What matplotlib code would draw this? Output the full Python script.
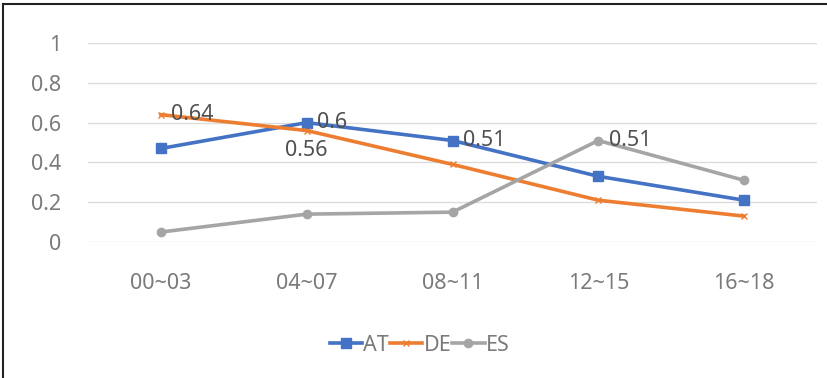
import matplotlib.pyplot as plt
from matplotlib.lines import Line2D

plt.rcParams['font.family'] = ['Noto Sans', 'DejaVu Sans']

periods = ['00~03', '04~07', '08~11', '12~15', '16~18']
at_vals = [0.47, 0.60, 0.51, 0.33, 0.21]
de_vals = [0.64, 0.56, 0.39, 0.21, 0.13]
es_vals = [0.05, 0.14, 0.15, 0.51, 0.31]

fig = plt.figure(figsize=(8.27, 3.78), dpi=100)
ax = fig.add_axes([88 / 827, 1 - 242 / 378, (817 - 88) / 827, (242 - 43) / 378])

x = range(len(periods))
ax.plot(x, at_vals, color='#4472c4', lw=2.6, marker='s', ms=7, label='AT')
ax.plot(x, de_vals, color='#ed7d31', lw=2.6, marker='x', ms=5, mew=1.0, label='DE')
ax.plot(x, es_vals, color='#a5a5a5', lw=2.6, marker='o', ms=6, label='ES')

# value labels on selected points
lab = dict(fontsize=15.5, color='#505050')
ax.text(0 + 0.07, de_vals[0], f'{de_vals[0]:.2f}', va='center', ha='left', **lab)
ax.text(1 + 0.07, at_vals[1], f'{at_vals[1]:g}', va='center', ha='left', **lab)
ax.text(1, de_vals[1] - 0.045, f'{de_vals[1]:.2f}', va='top', ha='center', **lab)
ax.text(2 + 0.07, at_vals[2], f'{at_vals[2]:.2f}', va='center', ha='left', **lab)
ax.text(3 + 0.07, es_vals[3], f'{es_vals[3]:.2f}', va='center', ha='left', **lab)

ax.set_xlim(-0.5, len(periods) - 0.5)
ax.set_ylim(0, 1)
ax.set_yticks([0, 0.2, 0.4, 0.6, 0.8, 1])
ax.set_yticklabels(['0', '0.2', '0.4', '0.6', '0.8', '1'])
ax.set_xticks(list(x))
ax.set_xticklabels(periods)
ax.tick_params(length=0, labelsize=15.5, labelcolor='#7a7a7a')
ax.tick_params(axis='y', pad=19)
ax.tick_params(axis='x', pad=22)
ax.grid(axis='y', color='#dcdcdc', lw=1)
ax.set_axisbelow(True)
for s in ax.spines.values():
    s.set_visible(False)

ax.legend(loc='center', bbox_to_anchor=(0.455, -0.52), ncol=3, frameon=False,
          fontsize=15.5, labelcolor='#7a7a7a', handlelength=1.5, handletextpad=0.05,
          columnspacing=0.05)

# frame on the left and top edges
fig.add_artist(Line2D([3 / 827, 3 / 827], [0, 1 - 4 / 378], color='#222222', lw=1.5))
fig.add_artist(Line2D([3 / 827, 1], [1 - 4 / 378, 1 - 4 / 378], color='#222222', lw=1.5))

fig.savefig('out.png', dpi=100)
